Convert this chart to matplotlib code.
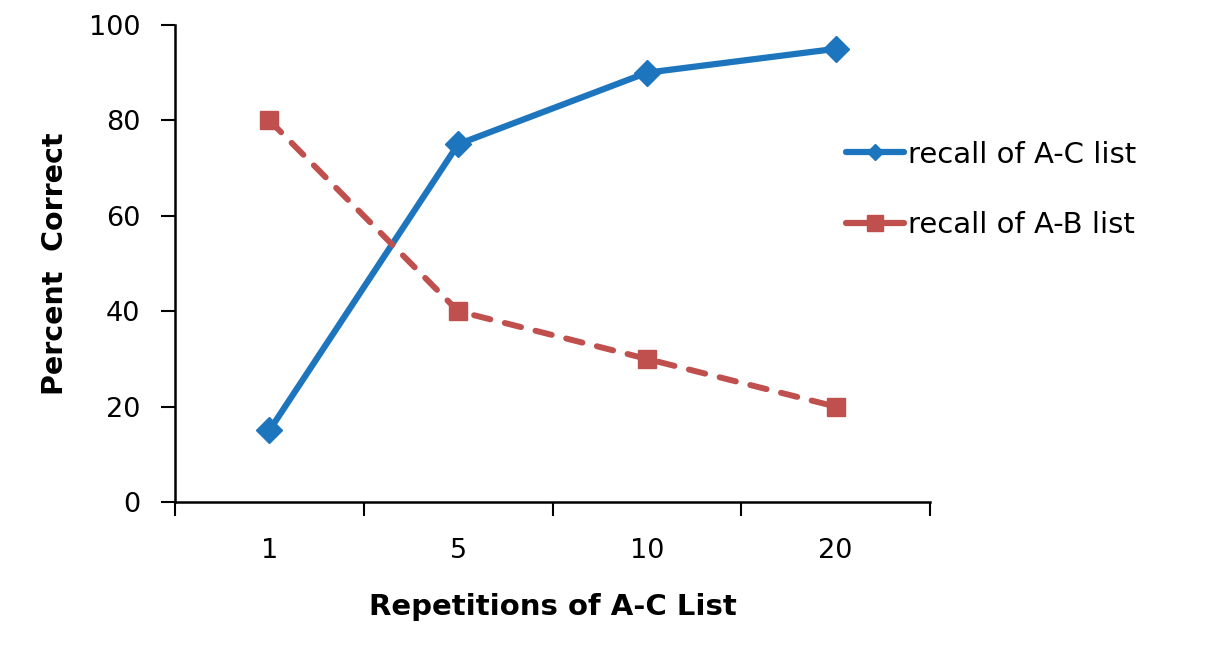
import matplotlib
matplotlib.use("Agg")
import matplotlib.pyplot as plt
from matplotlib.lines import Line2D

categories = ["1", "5", "10", "20"]
recall_ac = [15, 75, 90, 95]
recall_ab = [80, 40, 30, 20]
yticks = [0, 20, 40, 60, 80, 100]

blue = "#1D75BE"
red = "#C0504D"

plt.rcParams['font.family'] = ['DejaVu Sans']
fig = plt.figure(figsize=(12.2, 6.72), dpi=100)
ax = fig.add_axes([175/1220, 1-502/672, (930-175)/1220, (502-25)/672])

x = list(range(len(categories)))
ax.plot(x, recall_ac, color=blue, lw=4.5, marker='D', ms=13, mec=blue, mfc=blue,
        solid_capstyle='round', zorder=3)
ax.plot(x, recall_ab, color=red, lw=4.3, ls=(0, (2.8, 2.5)), dash_capstyle='round',
        marker='s', ms=13, mec=red, mfc=red, zorder=3)

ax.set_xlim(-0.5, 3.5)
ax.set_ylim(0, 100)
ax.set_yticks(yticks)
ax.set_yticklabels([str(v) for v in yticks])
ax.set_xticks(x)
ax.set_xticklabels(categories)
ax.set_xticks([i - 0.5 for i in range(len(categories) + 1)], minor=True)
ax.tick_params(axis='x', which='major', length=0, pad=26, labelsize=19.5)
ax.tick_params(axis='x', which='minor', length=10, width=1.5, direction='out')
ax.tick_params(axis='y', length=10, width=1.5, direction='out', pad=15, labelsize=19.5)
for s in ['top', 'right']:
    ax.spines[s].set_visible(False)
for s in ['left', 'bottom']:
    ax.spines[s].set_linewidth(1.8)

ax.set_ylabel("Percent  Correct", fontsize=20.5, fontweight='bold', labelpad=14)
ax.set_xlabel("Repetitions of A-C List", fontsize=21, fontweight='bold', labelpad=21)

handles = [
    Line2D([], [], color=blue, lw=4.5, marker='D', ms=8, solid_capstyle='round'),
    Line2D([], [], color=red, lw=4.5, marker='s', ms=11, solid_capstyle='round'),
]
fig.legend(handles, ["recall of A-C list", "recall of A-B list"],
           loc='upper left', bbox_to_anchor=(831/1220, 1-126/672),
           frameon=False, fontsize=21, handlelength=2.0, handletextpad=0.15,
           labelspacing=1.45, borderpad=0)

fig.savefig("out.png", dpi=100)
